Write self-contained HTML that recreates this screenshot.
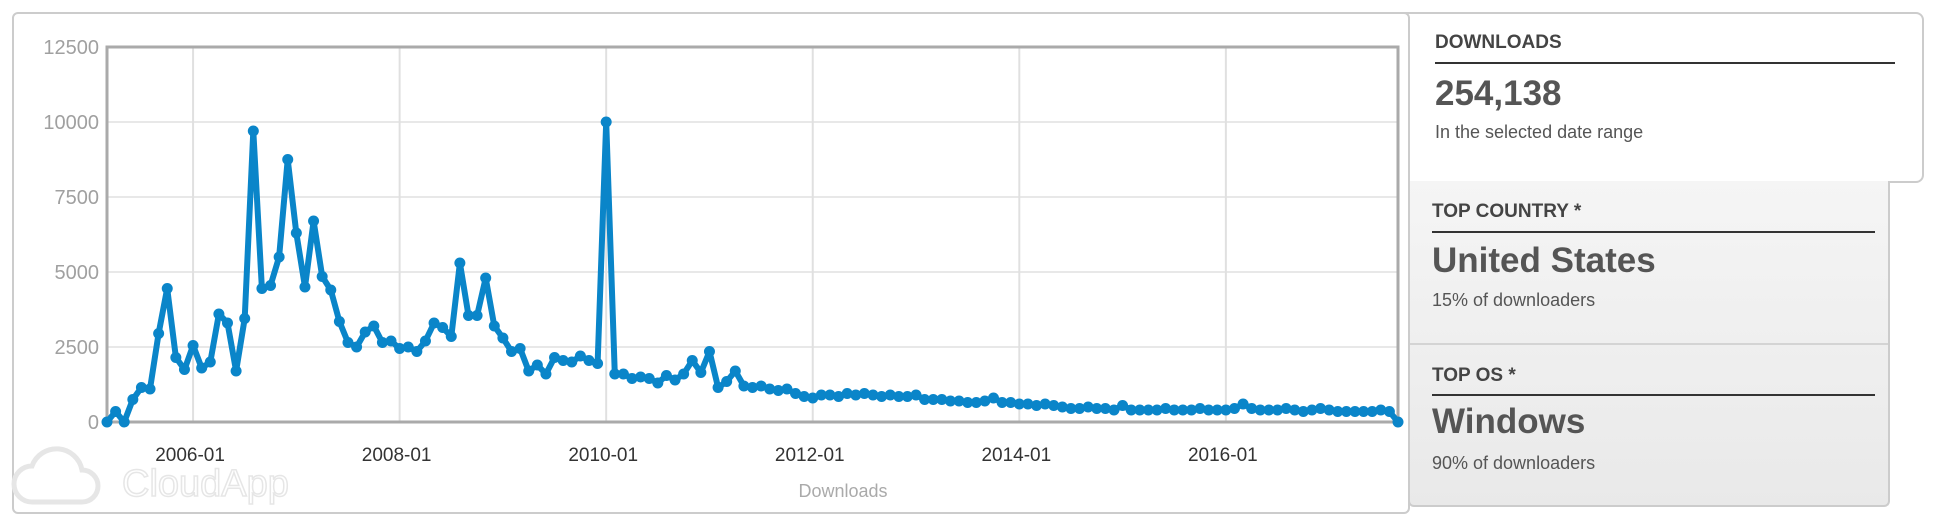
<!DOCTYPE html>
<html><head><meta charset="utf-8"><style>
html,body{margin:0;padding:0;background:#fff;}
body{width:1936px;height:528px;position:relative;overflow:hidden;font-family:"Liberation Sans",Arial,sans-serif;}
#chart-card{position:absolute;left:12px;top:12px;width:1394px;height:498px;border:2px solid #ccc;border-radius:6px;background:#fff;z-index:2;}
#dl-card{position:absolute;left:1380px;top:12px;width:540px;height:167px;border:2px solid #ccc;border-radius:8px;background:#fff;z-index:1;}
#gray-panel{position:absolute;left:1408px;top:181px;width:478px;height:324px;border:2px solid #ccc;border-top:none;border-radius:0 0 6px 6px;background:linear-gradient(#f5f5f5,#e9e9e9);z-index:1;}
.divider{position:absolute;left:0;right:0;top:162px;height:2px;background:#d4d4d4;}
.lbl{position:absolute;font-weight:bold;font-size:19px;color:#444;}
.rule{position:absolute;height:2px;background:#333;}
.big{position:absolute;font-weight:bold;font-size:35px;color:#555;}
.sub{position:absolute;font-size:18px;color:#555;}
svg{position:absolute;left:0;top:0;}
</style></head><body>
<div id="chart-card"></div>
<div id="dl-card">
 <div class="lbl" style="left:53px;top:18px;">DOWNLOADS</div>
 <div class="rule" style="left:53px;width:460px;top:48px;"></div>
 <div class="big" style="left:53px;top:60px;">254,138</div>
 <div class="sub" style="left:53px;top:108px;">In the selected date range</div>
</div>
<div id="gray-panel">
 <div class="lbl" style="left:22px;top:20px;">TOP COUNTRY *</div>
 <div class="rule" style="left:22px;width:443px;top:50px;"></div>
 <div class="big" style="left:22px;top:60px;">United States</div>
 <div class="sub" style="left:22px;top:109px;">15% of downloaders</div>
 <div class="divider"></div>
 <div class="lbl" style="left:22px;top:184px;">TOP OS *</div>
 <div class="rule" style="left:22px;width:443px;top:213px;"></div>
 <div class="big" style="left:22px;top:221px;">Windows</div>
 <div class="sub" style="left:22px;top:272px;">90% of downloaders</div>
</div>
<svg id="svg" width="1936" height="528" style="z-index:3"></svg>
<script>
const yTicks=[0,2500,5000,7500,10000,12500];
const xLabels=["2006-01","2008-01","2010-01","2012-01","2014-01","2016-01"];
const xLabelIdx=[10,34,58,82,106,130];
const downloads=[0,350,0,750,1150,1100,2950,4450,2150,1750,2550,1800,2000,3600,3300,1700,3450,9700,4450,4550,5500,8750,6300,4500,6700,4850,4400,3350,2650,2500,3000,3200,2650,2700,2450,2500,2350,2700,3300,3150,2850,5300,3550,3550,4800,3200,2800,2350,2450,1700,1900,1600,2150,2050,2000,2200,2050,1950,
10000,1600,1600,1450,1500,1450,1300,1550,1400,1600,2050,
1650,2350,1150,1350,1700,1200,1150,1200,1100,1050,
1100,950,850,800,900,900,850,950,900,950,
900,850,900,850,850,900,750,750,750,700,
700,650,650,700,800,650,650,600,600,550,
600,550,500,450,450,500,450,450,400,550,
400,400,400,400,450,400,400,400,450,400,
400,400,450,600,450,400,400,400,450,400,
350,400,450,400,350,350,350,350,350,400,350,0];
const NS='http://www.w3.org/2000/svg';
const svg=document.getElementById('svg');
const L=107,R=1398,T=47,B=422,YMAX=12500;
const n=downloads.length;
const x=i=>L+i*(R-L)/(n-1);
const y=v=>B-v/YMAX*(B-T);
function mk(tag,attrs){const e=document.createElementNS(NS,tag);for(const k in attrs)e.setAttribute(k,attrs[k]);svg.appendChild(e);return e;}
yTicks.forEach(v=>{
 const g=mk('line',{x1:L,x2:R,y1:y(v),y2:y(v),stroke:'#e8e8e8','stroke-width':2});
 
 
 const t=mk('text',{x:99,y:y(v)+7,'text-anchor':'end','font-size':20,fill:'#a0a0a0','font-family':'Liberation Sans, sans-serif'});
 t.textContent=v;
 
 
});
xLabels.forEach((lab,k)=>{
 const xx=L+xLabelIdx[k]*(R-L)/(n-1);
 const g=mk('line',{x1:xx,x2:xx,y1:T,y2:B,stroke:'#e0e0e0','stroke-width':2});
 
 
 const t=mk('text',{x:xx-3,y:461,'text-anchor':'middle','font-size':19,fill:'#333','font-family':'Liberation Sans, sans-serif'});
 t.textContent=lab;
 
 
});
const frame=mk('rect',{x:L,y:T,width:R-L,height:B-T,fill:'none',stroke:'#aaa','stroke-width':3});


const wm=mk('text',{x:122,y:496,'font-size':38,fill:'#fff',stroke:'#e6e6e6','stroke-width':1.5,'font-family':'Liberation Sans, sans-serif'});
wm.textContent='CloudApp';


const cloud=mk('path',{d:'M32 502 h50 a16 16 0 0 0 0-32 a26 26 0 0 0-50-4 a18 18 0 0 0 0 36 z',fill:'#fff',stroke:'#e6e6e6','stroke-width':5});


const at=mk('text',{x:843,y:497,'text-anchor':'middle','font-size':18,fill:'#aaa','font-family':'Liberation Sans, sans-serif'});
at.textContent='Downloads';


const pts=downloads.map((v,i)=>x(i).toFixed(1)+','+y(v).toFixed(1)).join(' ');
const line=mk('polyline',{points:pts,fill:'none',stroke:'#0a85c9','stroke-width':6,'stroke-linejoin':'round'});


downloads.forEach((v,i)=>{
 const c=mk('circle',{cx:x(i),cy:y(v),r:5.5,fill:'#0a85c9'});
 
 
});
</script>
</body></html>
